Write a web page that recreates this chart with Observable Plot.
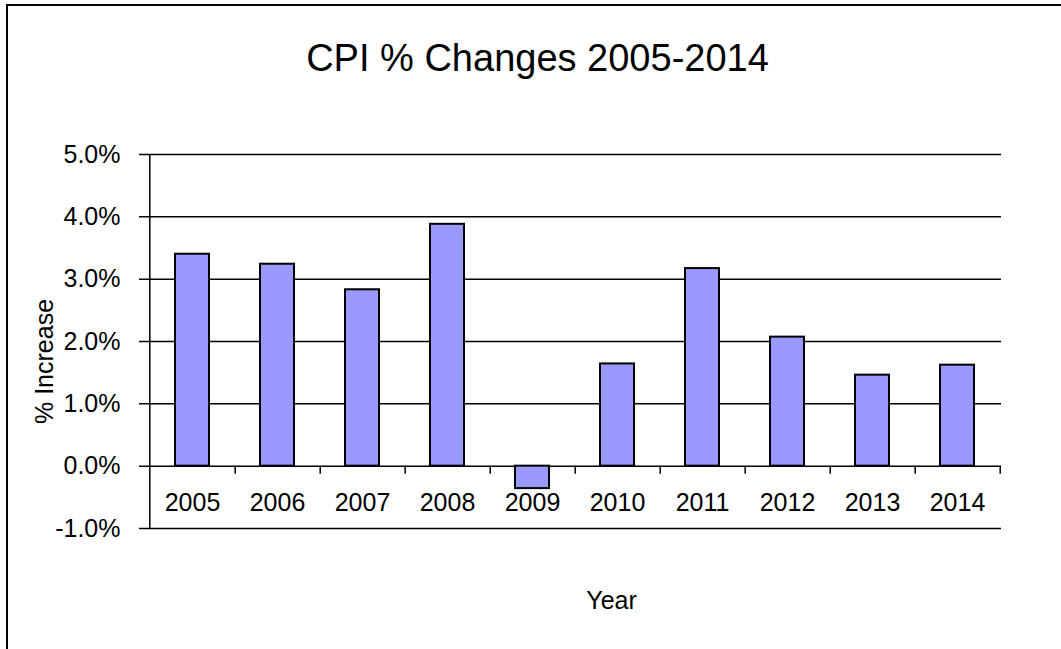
<!DOCTYPE html>
<html>
<head>
<meta charset="utf-8">
<script src="https://cdn.jsdelivr.net/npm/d3@7"></script>
<script src="https://cdn.jsdelivr.net/npm/@observablehq/plot@0.6"></script>
<style>
  html, body { margin: 0; padding: 0; background: #fff; }
  #wrap { position: relative; width: 1061px; height: 649px; overflow: hidden; }
  #border { position: absolute; left: 6px; top: 4px; width: 1200px; height: 800px; border: 2px solid #000; }
  #wrap svg { position: absolute; left: 0; top: 0; }
</style>
</head>
<body>
<div id="wrap"><div id="border"></div></div>
<script>
// Annual CPI change, percent
const years = ["2005", "2006", "2007", "2008", "2009", "2010", "2011", "2012", "2013", "2014"];
const cpiChange = [3.40, 3.24, 2.83, 3.88, -0.36, 1.64, 3.17, 2.07, 1.46, 1.62];
const yTicks = [-1, 0, 1, 2, 3, 4, 5];
const title = "CPI % Changes 2005-2014";
const xLabel = "Year";
const yLabel = "% Increase";

const data = years.map((year, i) => ({year, value: cpiChange[i]}));

const W = 1061, H = 649;
const mL = 147, mR = 60, mT = 154, mB = 121;
const step = (W - mL - mR) / years.length; // band step (inner 0.6 + 2 × outer 0.3 = 1 step)
const font = "'Liberation Sans', Arial, Helvetica, sans-serif";
const fs = 25;

const chart = Plot.plot({
  width: W,
  height: H,
  marginLeft: mL,
  marginRight: mR,
  marginTop: mT,
  marginBottom: mB,
  style: {fontFamily: font, fontSize: fs + "px", color: "#000", background: "transparent", overflow: "visible"},
  x: {type: "band", domain: years, paddingInner: 0.6, paddingOuter: 0.3, axis: null},
  y: {domain: [-1, 5], ticks: yTicks, tickFormat: d => d.toFixed(1) + "%", tickSize: 0, tickPadding: 27, label: null},
  marks: [
    // horizontal gridlines, with short ticks left of the axis
    Plot.ruleY(yTicks, {stroke: "#000", strokeWidth: 1.5, insetLeft: -8}),
    // vertical value axis
    Plot.ruleX([years[0]], {dx: -step / 2, y1: -1, y2: 5, stroke: "#000", strokeWidth: 1.5}),
    // category boundary ticks below the zero line
    Plot.ruleX(years, {dx: step / 2, y1: 0, y2: 0, insetBottom: -8, stroke: "#000", strokeWidth: 1.5}),
    Plot.barY(data, {x: "year", y: "value", fill: "#9999ff", stroke: "#000", strokeWidth: 2}),
    // year labels between the zero line and the bottom gridline
    Plot.text(data, {x: "year", frameAnchor: "bottom", text: "year", dy: -18, fontSize: fs, fill: "#000"}),
    Plot.text([title], {frameAnchor: "top-left", text: d => d, textAnchor: "middle", dx: 390, dy: -84, lineAnchor: "bottom", fontSize: 38, fill: "#000"}),
    Plot.text([xLabel], {frameAnchor: "top-left", text: d => d, textAnchor: "middle", dx: 464, dy: 454, lineAnchor: "bottom", fontSize: fs, fill: "#000"}),
    Plot.text([yLabel], {frameAnchor: "top-left", text: d => d, textAnchor: "middle", rotate: -90, dx: -95, dy: 207, lineAnchor: "bottom", fontSize: fs, fill: "#000"})
  ]
});

document.getElementById("wrap").appendChild(chart);
</script>
</body>
</html>
